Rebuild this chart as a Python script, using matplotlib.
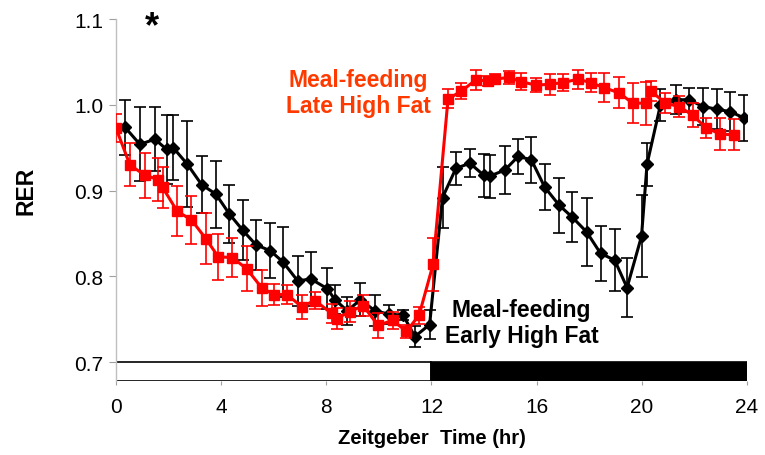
import matplotlib
matplotlib.use("Agg")
import matplotlib.pyplot as plt

# Meal-feeding, late high fat (red squares)
late_t = [0.0, 0.53, 1.1, 1.61, 1.77, 2.33, 2.87, 3.42, 3.89, 4.43, 4.97, 5.54,
          6.0, 6.5, 7.06, 7.57, 8.2, 8.39, 8.9, 9.4, 9.97, 10.52, 11.05, 11.53,
          12.06, 12.63, 13.14, 13.68, 14.15, 14.41, 14.95, 15.42, 15.97, 16.5, 17.01, 17.58,
          18.05, 18.57, 19.14, 19.65, 20.17, 20.36, 20.89, 21.43, 21.93, 22.46, 22.99, 23.52]
late_rer = [0.973, 0.930, 0.918, 0.913, 0.904, 0.876, 0.866, 0.844, 0.823, 0.822, 0.809, 0.787,
            0.779, 0.779, 0.765, 0.772, 0.757, 0.751, 0.759, 0.766, 0.743, 0.749, 0.736, 0.755,
            0.814, 1.007, 1.016, 1.029, 1.028, 1.030, 1.032, 1.027, 1.023, 1.024, 1.026, 1.030,
            1.026, 1.020, 1.014, 1.002, 1.002, 1.016, 1.002, 0.998, 0.988, 0.973, 0.966, 0.965]
late_err = [0.016, 0.025, 0.026, 0.025, 0.024, 0.029, 0.028, 0.030, 0.027, 0.023, 0.026, 0.021,
            0.012, 0.011, 0.014, 0.010, 0.011, 0.012, 0.012, 0.012, 0.015, 0.010, 0.008, 0.010,
            0.031, 0.011, 0.009, 0.012, 0.006, 0.006, 0.008, 0.010, 0.008, 0.012, 0.010, 0.011,
            0.011, 0.017, 0.018, 0.023, 0.025, 0.012, 0.012, 0.012, 0.014, 0.012, 0.019, 0.018]

# Meal-feeding, early high fat (black diamonds)
early_t = [0.34, 0.91, 1.48, 1.93, 2.18, 2.71, 3.26, 3.80, 4.31, 4.82, 5.32, 5.87,
           6.35, 6.91, 7.42, 8.03, 8.33, 8.80, 9.30, 9.85, 10.40, 10.92, 11.37, 11.93,
           12.42, 12.93, 13.46, 13.99, 14.22, 14.79, 15.30, 15.80, 16.31, 16.86, 17.36, 17.90,
           18.43, 18.97, 19.44, 19.99, 20.20, 20.71, 21.29, 21.80, 22.33, 22.86, 23.37, 23.87]
early_rer = [0.974, 0.954, 0.960, 0.948, 0.950, 0.931, 0.907, 0.896, 0.873, 0.854, 0.837, 0.830,
             0.817, 0.795, 0.797, 0.786, 0.773, 0.760, 0.773, 0.760, 0.756, 0.755, 0.730, 0.744,
             0.892, 0.926, 0.932, 0.918, 0.917, 0.924, 0.940, 0.936, 0.904, 0.883, 0.869, 0.852,
             0.827, 0.819, 0.787, 0.847, 0.931, 1.000, 1.006, 1.006, 0.998, 0.995, 0.992, 0.985]
early_err = [0.032, 0.043, 0.037, 0.040, 0.038, 0.050, 0.033, 0.039, 0.034, 0.035, 0.029, 0.032,
             0.041, 0.029, 0.031, 0.024, 0.017, 0.016, 0.019, 0.018, 0.011, 0.006, 0.012, 0.017,
             0.036, 0.019, 0.016, 0.025, 0.025, 0.028, 0.020, 0.027, 0.027, 0.032, 0.029, 0.040,
             0.032, 0.036, 0.034, 0.048, 0.025, 0.019, 0.017, 0.014, 0.022, 0.023, 0.023, 0.027]

# light / dark phases
phase_start = [0, 12]
phase_len = [12, 12]
phase_color = ["white", "black"]

xticks = [0, 4, 8, 12, 16, 20, 24]
yticks = [0.7, 0.8, 0.9, 1.0, 1.1]

RED = "#FF0000"
RED_TXT = "#FF3A00"
ylo = 0.6786

plt.rcParams["font.family"] = ["Liberation Sans", "DejaVu Sans"]

fig = plt.figure(figsize=(7.65, 4.56), dpi=100)
ax = fig.add_axes([0.1516, 0.163, 0.8248, 0.793])

ax.bar(phase_start, [0.7 - ylo] * 2, width=phase_len, bottom=ylo, align="edge",
       color=phase_color, edgecolor="black", linewidth=1.2, zorder=2)

ax.errorbar(early_t, early_rer, yerr=early_err, color="black", marker="D", markersize=6.5,
            linewidth=2.2, elinewidth=1.2, capsize=4.5, capthick=1.2, zorder=3)
ax.errorbar(late_t, late_rer, yerr=late_err, color=RED, marker="s", markersize=7,
            linewidth=2.2, elinewidth=1.2, capsize=4, capthick=1.2, zorder=4)

ax.set_xlim(0, 24)
ax.set_ylim(ylo, 1.1)
ax.set_xticks(xticks)
ax.set_yticks(yticks)
ax.set_yticklabels([f"{v:.1f}" for v in yticks])
ax.tick_params(axis="both", colors="#A0A0A0", labelcolor="black", labelsize=15)
ax.tick_params(axis="y", length=5, pad=4)
ax.tick_params(axis="x", length=3, pad=9)

for side in ["top", "right", "bottom"]:
    ax.spines[side].set_visible(False)
ax.spines["left"].set_color("#BFBFBF")
ax.spines["left"].set_linewidth(1)

ax.set_ylabel("RER", fontsize=16.5, fontweight="bold")
ax.yaxis.set_label_coords(-0.143, 0.528)
ax.yaxis.label.set_va("center")
ax.set_xlabel("Zeitgeber  Time (hr)", fontsize=14.5, fontweight="bold")
ax.xaxis.set_label_coords(0.501, -0.156)
ax.xaxis.label.set_va("center")

ax.text(9.22, 1.030, "Meal-feeding", color=RED_TXT, fontsize=16.5, fontweight="bold",
        ha="center", va="center")
ax.text(9.22, 0.999, "Late High Fat", color=RED_TXT, fontsize=16.5, fontweight="bold",
        ha="center", va="center")
ax.text(15.41, 0.762, "Meal-feeding", color="black", fontsize=16.5, fontweight="bold",
        ha="center", va="center")
ax.text(15.45, 0.731, "Early High Fat", color="black", fontsize=16.5, fontweight="bold",
        ha="center", va="center")
ax.text(1.37, 1.091, "*", color="black", fontsize=26, fontweight="bold",
        ha="center", va="center")

fig.savefig("out.png", dpi=100, facecolor="white")
